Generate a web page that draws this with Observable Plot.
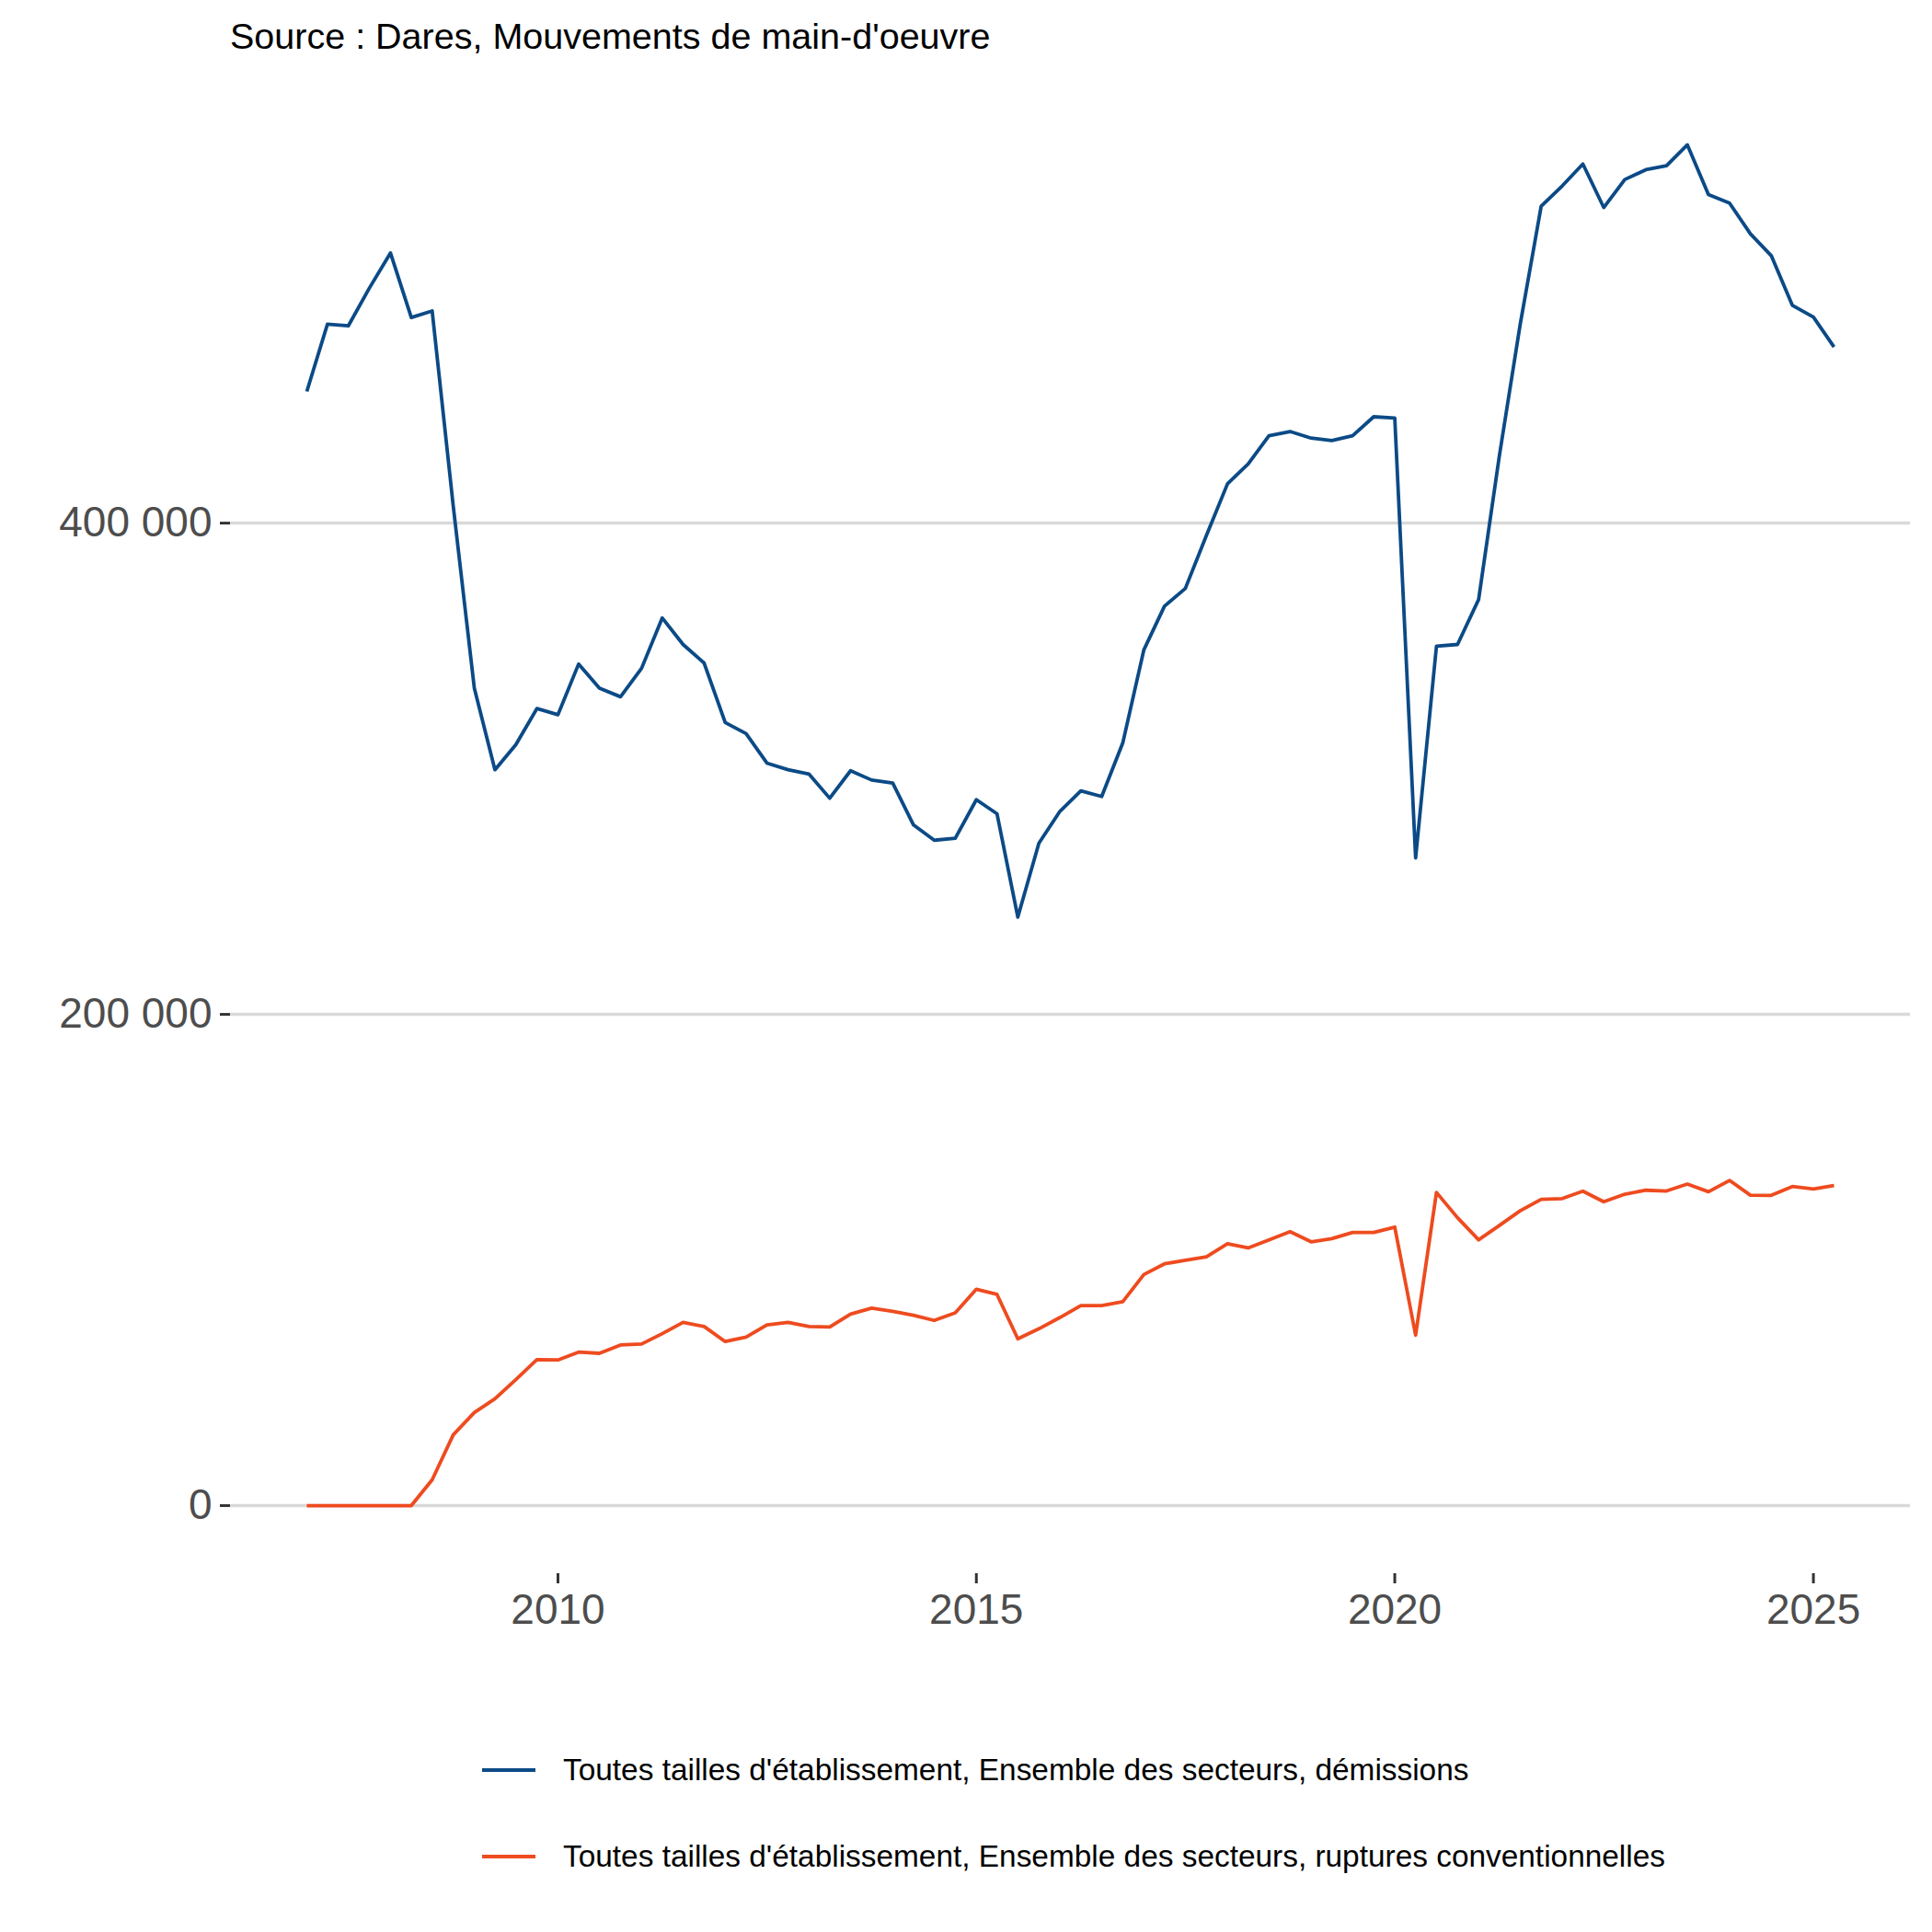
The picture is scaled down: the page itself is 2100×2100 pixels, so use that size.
<!DOCTYPE html>
<html>
<head>
<meta charset="utf-8">
<script src="https://cdn.jsdelivr.net/npm/d3@7"></script>
<script src="https://cdn.jsdelivr.net/npm/@observablehq/plot@0.6"></script>
<style>
  html, body { margin: 0; padding: 0; background: #ffffff; }
  body { font-family: "Liberation Sans", Arial, Helvetica, sans-serif; width: 2100px; }
  #source { height: 70px; box-sizing: border-box; padding: 19px 0 0 250px; font-size: 39.5px; line-height: 40px; color: #000; white-space: nowrap; }
  #chart svg { display: block; }
  #legend { padding: 77px 0 0 524px; }
  .item { display: flex; align-items: center; height: 94px; }
  .item svg { display: block; margin-right: 30px; }
  .item span { font-size: 33.4px; color: #000; white-space: nowrap; }
</style>
</head>
<body>
<div id="source"></div>
<div id="chart"></div>
<div id="legend"></div>
<script>
// ---- Data (quarterly, first quarter 2007-T1) ----
const quarterStart = "2007-01-01";

const demissions = [
  453600, 481000, 480300, 495700, 510000, 483700, 486400, 407000, 332800, 299600,
  309800, 324500, 322000, 342600, 332800, 329300, 340900, 361400, 350600, 343000,
  318800, 314300, 302300, 299600, 297800, 288000, 299200, 295400, 294200, 277200,
  270900, 271700, 287400, 281700, 239600, 269700, 282700, 291000, 288700, 310500,
  348400, 366200, 373400, 395000, 416000, 424100, 435600, 437300, 434600, 433600,
  435600, 443300, 442800, 263700, 349900, 350600, 368900, 427100, 480700, 529000,
  537300, 546200, 528500, 539900, 543900, 545500, 554000, 533800, 530300, 517800,
  508900, 488700, 483900, 471700
];

const ruptures = [
  0, 0, 0, 0, 0, 0, 10500, 28800, 37900, 43500,
  51300, 59400, 59300, 62500, 62000, 65400, 65800, 70000, 74600, 72900,
  66800, 68600, 73600, 74600, 72900, 72700, 78000, 80400, 79100, 77500,
  75400, 78500, 88100, 86000, 67900, 72000, 76600, 81400, 81400, 83000,
  94100, 98450, 99900, 101300, 106600, 104900, 108200, 111550, 107400, 108700,
  111200, 111200, 113400, 69400, 127500, 117200, 108200, 114000, 120000, 124700,
  125000, 128000, 123700, 126800, 128400, 128100, 130900, 127800, 132400, 126400,
  126300, 129900, 128900, 130300
];

const seriesLabels = [
  "Toutes tailles d'établissement, Ensemble des secteurs, démissions",
  "Toutes tailles d'établissement, Ensemble des secteurs, ruptures conventionnelles"
];
const seriesColors = ["#0b4a86", "#ee4b1f"];

const yTicks = [0, 200000, 400000];
const xTickYears = [2010, 2015, 2020, 2025];
const sourceText = "Source : Dares, Mouvements de main-d'oeuvre";

// ---- Build table ----
const start = new Date(quarterStart + "T00:00:00Z");
const dates = demissions.map((_, i) => d3.utcMonth.offset(start, 3 * i));
const rows = [
  ...demissions.map((v, i) => ({date: dates[i], value: v, series: seriesLabels[0]})),
  ...ruptures.map((v, i) => ({date: dates[i], value: v, series: seriesLabels[1]}))
];
const xTicks = xTickYears.map(y => new Date(Date.UTC(y, 0, 1)));

const fr = d3.formatLocale({decimal: ",", thousands: " ", grouping: [3], currency: ["", " €"]});
const fmt = fr.format(",d");

const xExt = d3.extent(dates);
const xPad = (xExt[1] - xExt[0]) * 0.05;
const yMax = d3.max(rows, d => d.value);
const yPad = yMax * 0.05;

document.getElementById("source").textContent = sourceText;

const chart = Plot.plot({
  width: 2100,
  height: 1730,
  marginTop: 13,
  marginBottom: 90,
  marginLeft: 250,
  marginRight: 24,
  style: {fontFamily: "'Liberation Sans', Arial, Helvetica, sans-serif", fontSize: "46px", background: "#ffffff", overflow: "visible"},
  x: {type: "utc", domain: [new Date(+xExt[0] - xPad), new Date(+xExt[1] + xPad)], label: null},
  y: {domain: [-yPad, yMax + yPad], label: null},
  color: {domain: seriesLabels, range: seriesColors},
  marks: [
    Plot.ruleY(yTicks, {stroke: "#d9d9d9", strokeWidth: 3.5}),
    Plot.axisY({ticks: yTicks, tickFormat: fmt, tickSize: 11, tickPadding: 9, stroke: "#333333", strokeWidth: 3, fill: "#4d4d4d", fontSize: 46, label: null}),
    Plot.axisX({ticks: xTicks, tickFormat: d3.utcFormat("%Y"), tickSize: 11, tickPadding: 11, stroke: "#333333", strokeWidth: 3, fill: "#4d4d4d", fontSize: 46, label: null}),
    Plot.line(rows, {x: "date", y: "value", z: "series", stroke: "series", strokeWidth: 3.8, strokeLinejoin: "round", strokeLinecap: "butt"})
  ]
});
document.getElementById("chart").appendChild(chart);

// ---- Legend ----
const legend = document.getElementById("legend");
seriesLabels.forEach((lab, i) => {
  const row = document.createElement("div");
  row.className = "item";
  row.innerHTML = `<svg width="58" height="10"><line x1="0" x2="58" y1="5" y2="5" stroke="${seriesColors[i]}" stroke-width="4"/></svg>`;
  const span = document.createElement("span");
  span.textContent = lab;
  row.appendChild(span);
  legend.appendChild(row);
});
</script>
</body>
</html>
